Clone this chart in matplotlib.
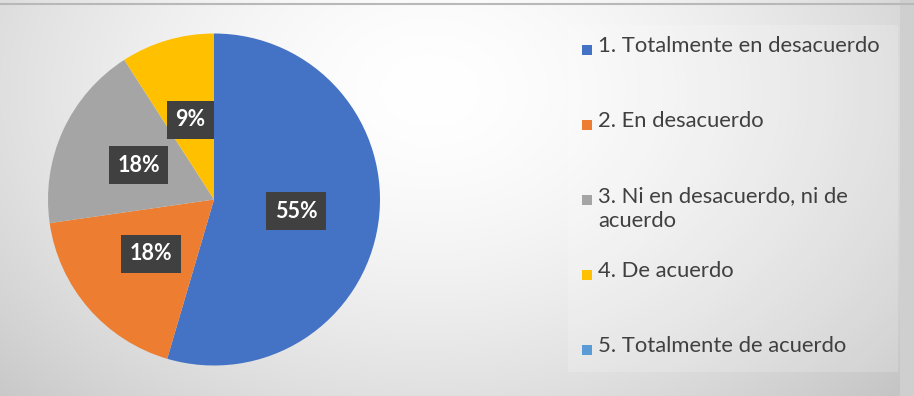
import numpy as np
import matplotlib
matplotlib.use("Agg")
import matplotlib.pyplot as plt
from matplotlib.patches import Rectangle

categories = ["1. Totalmente en desacuerdo", "2. En desacuerdo",
              "3. Ni en desacuerdo, ni de\nacuerdo", "4. De acuerdo",
              "5. Totalmente de acuerdo"]
values = [6, 2, 2, 1, 0]
colors = ["#4472C4", "#ED7D31", "#A5A5A5", "#FFC000", "#5B9BD5"]

W, H = 914, 396
fig = plt.figure(figsize=(W / 100, H / 100), dpi=100)

# background radial gradient
bg = fig.add_axes([0, 0, 1, 1])
yy, xx = np.mgrid[0:H, 0:W]
d = np.sqrt(((xx - 430) / 520.0) ** 2 + ((yy - 90) / 380.0) ** 2)
g = 1.0 - 0.17 * np.clip(d, 0, 1.2) ** 1.6
img = np.dstack([g, g, g])
bg.imshow(img, extent=[0, W, H, 0], aspect="auto", interpolation="bilinear")
bg.set_xlim(0, W)
bg.set_ylim(H, 0)
bg.axis("off")
# top border line and right strip
bg.plot([0, W], [3.5, 3.5], color="#b8b8b8", lw=1.5)
bg.add_patch(Rectangle((900, 0), 14, H, facecolor="#cfcfcf", edgecolor="none"))
# legend panel
bg.add_patch(Rectangle((568, 25), 330, 347, facecolor="white", alpha=0.18, edgecolor="none"))

# pie
cx, cy, r = 214, 199.5, 166
ax = fig.add_axes([(cx - r) / W, (H - cy - r) / H, 2 * r / W, 2 * r / H])
wedges, texts, autotexts = ax.pie(
    values, colors=colors, startangle=90, counterclock=False,
    autopct=lambda p: f"{p:.0f}%" if p > 0 else "", pctdistance=0.5,
    wedgeprops=dict(linewidth=0), radius=1.0)
for t in autotexts:
    t.set_color("white")
    t.set_fontsize(15.5)
    t.set_fontweight("bold")
    t.set_family("Lato")
    t.set_bbox(dict(boxstyle="square,pad=0.4", facecolor="#404040", edgecolor="none"))
ax.set_xlim(-1, 1)
ax.set_ylim(-1, 1)
ax.set_aspect("equal")
ax.axis("off")

# legend (manual, Excel-like slots)
for i, (lab, col) in enumerate(zip(categories, colors)):
    ytop = 40 + i * 75
    bg.add_patch(Rectangle((582, ytop + 5), 10, 10, facecolor=col, edgecolor="none"))
    bg.text(598, ytop - 4, lab, fontsize=15.8, family="Lato", color="#404040",
            va="top", ha="left", linespacing=1.3)

fig.savefig("out.png", dpi=100)
